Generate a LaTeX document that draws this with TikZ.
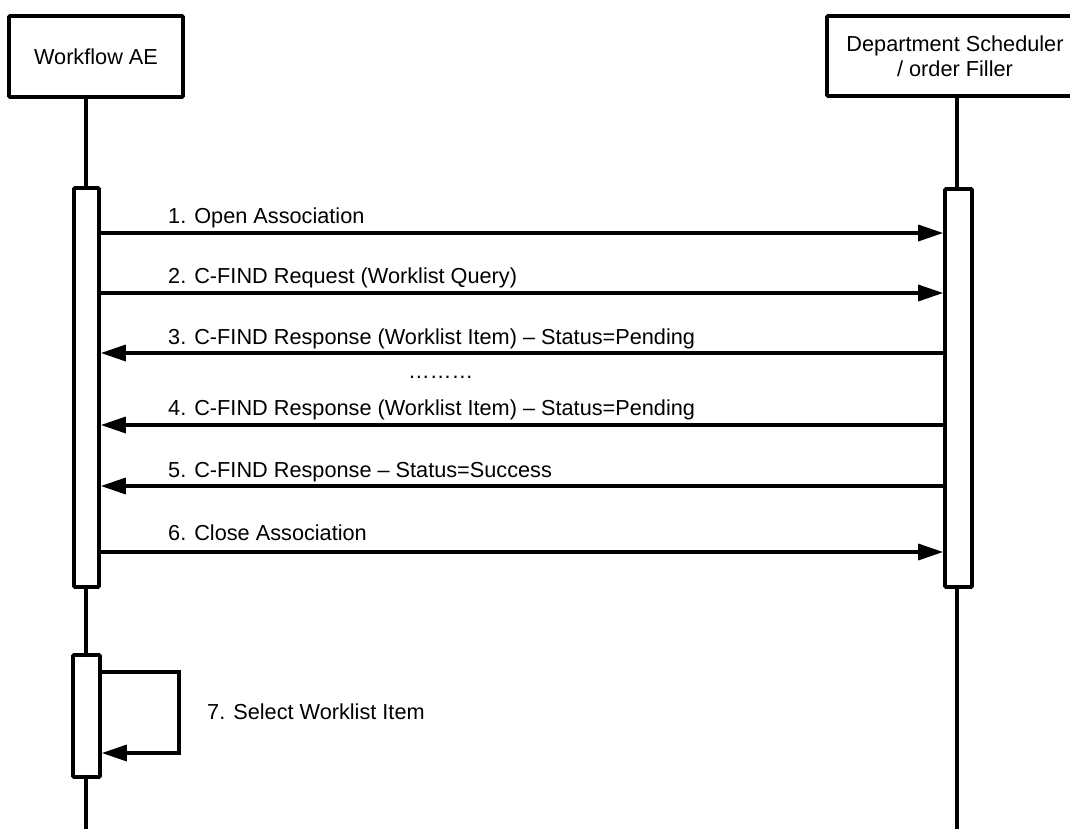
\documentclass[tikz,border=0pt]{standalone}
\usepackage{fontspec}
\setmainfont{Liberation Sans}
\usetikzlibrary{arrows.meta}
\begin{document}
\begin{tikzpicture}[x=1pt,y=-1pt,
  font=\fontsize{21.7}{25}\selectfont,
  actor/.style={draw, line width=3.8pt, fill=white, inner sep=0pt, rounded corners=1pt},
  bar/.style={draw, line width=3.6pt, fill=white, minimum width=25pt, inner sep=0pt, rounded corners=1pt},
  life/.style={line width=3.4pt},
  msg/.style={line width=3.3pt, -{Triangle[length=25pt,width=16pt]}},
  lab/.style={anchor=base west, inner sep=0pt}]
\useasboundingbox (0,0) rectangle (1070,828);
% actors
\node[actor, minimum width=174pt, minimum height=81pt] (wf) at (96,56.5) {Workflow AE};
\node[actor, minimum width=256pt, minimum height=80pt, align=center] (ds) at (955,56) {Department Scheduler\\/ order Filler};
% lifelines
\coordinate (lb) at (86,830);
\coordinate (rb) at (957,830);
\draw[life] (wf.south -| lb) -- (lb);
\draw[life] (ds.south -| rb) -- (rb);
% activation bars
\node[bar, minimum height=399pt] (a1) at (86.5,387.5) {};
\node[bar, minimum width=27pt, minimum height=398pt] (b1) at (958.5,388) {};
\node[bar, minimum width=27pt, minimum height=122pt] (a2) at (86.5,716) {};
% messages
\draw[msg] (a1.east |- 0,233) -- (b1.west |- 0,233);
\node[lab] (t1) at (168,223) {1. Open Association};
\draw[msg] (a1.east |- 0,293) -- (b1.west |- 0,293);
\node[lab] (t2) at (168,283) {2. C-FIND Request (Worklist Query)};
\draw[msg] (b1.west |- 0,353) -- (a1.east |- 0,353);
\node[lab] (t3) at (168,344) {3. C-FIND Response (Worklist Item) – Status=Pending};
\node[lab] (dots) at (408,378) {………};
\draw[msg] (b1.west |- 0,425) -- (a1.east |- 0,425);
\node[lab] (t4) at (168,415) {4. C-FIND Response (Worklist Item) – Status=Pending};
\draw[msg] (b1.west |- 0,486) -- (a1.east |- 0,486);
\node[lab] (t5) at (168,477) {5. C-FIND Response – Status=Success};
\draw[msg] (a1.east |- 0,552) -- (b1.west |- 0,552);
\node[lab] (t6) at (168,540) {6. Close Association};
% self message
\coordinate (lp) at (179,753);
\draw[msg] (a2.east |- 0,672) -| (lp) -- (a2.east |- lp);
\node[lab] (t7) at (207,719) {7. Select Worklist Item};
\end{tikzpicture}
\end{document}
